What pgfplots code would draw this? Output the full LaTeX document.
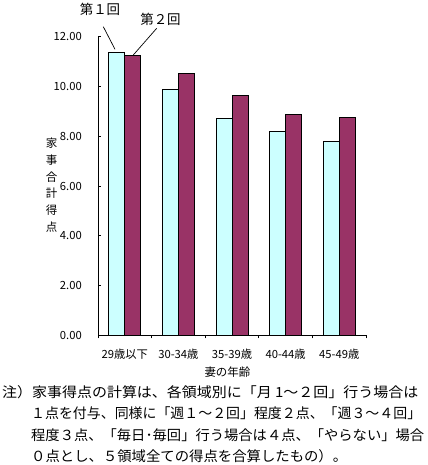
\documentclass[border=0pt]{standalone}
\usepackage{fontspec}
\setmainfont{Noto Sans CJK JP}
\usepackage{graphicx}
\usepackage{pgfplots}
\pgfplotsset{compat=1.18}
\definecolor{barcyan}{HTML}{CCFFFF}
\definecolor{barpurple}{HTML}{993366}
\begin{document}
\begin{tikzpicture}[x=1bp,y=1bp]
\useasboundingbox (0,0) rectangle (427,465);
\begin{axis}[
  at={(98bp,129.5bp)}, anchor=south west,
  scale only axis, width=268bp, height=299bp,
  xmin=0.5, xmax=5.5, ymin=0, ymax=12,
  axis lines*=left,
  axis line style={line width=0.8bp},
  tick align=inside, major tick length=3bp,
  tick style={black, line width=0.8bp},
  xtick={0.5,1.5,2.5,3.5,4.5,5.5},
  x tick label as interval,
  xticklabels={29歳以下,30-34歳,35-39歳,40-44歳,45-49歳},
  xticklabel style={font=\fontsize{11.3}{12}\selectfont, inner sep=0pt, anchor=center, yshift=-16bp},
  ytick={0,2,4,6,8,10,12},
  yticklabel style={font=\fontsize{11.3}{12}\selectfont, inner sep=0pt, xshift=-16bp},
  /pgf/number format/assume math mode=true,
  /pgf/number format/.cd, fixed, fixed zerofill, precision=2, /pgfplots/.cd,
  ybar=0pt, bar width=16bp,
  xlabel={妻の年齢},
  every axis x label/.style={at={(axis description cs:0.483,-0.1237)}, anchor=center, inner sep=0pt, font=\fontsize{11.5}{12}\selectfont},
  ylabel={家\\事\\合\\計\\得\\点},
  every axis y label/.style={at={(axis description cs:-0.1735,0.503)}, anchor=center, inner sep=0pt, align=center, font=\fontsize{11.5}{16.8}\selectfont},
]
\addplot[fill=barcyan, draw=black, line width=0.8bp] coordinates {(1,11.36) (2,9.88) (3,8.72) (4,8.19) (5,7.79)};
\addplot[fill=barpurple, draw=black, line width=0.8bp] coordinates {(1,11.24) (2,10.52) (3,9.64) (4,8.87) (5,8.76)};
\end{axis}
\node[inner sep=0pt, font=\fontsize{13.5}{14}\selectfont] at (100,455.5) {第１回};
\node[inner sep=0pt, font=\fontsize{13.5}{14}\selectfont] at (160.5,445.5) {第２回};
\draw[line width=0.7bp] (103.3,438.3) -- (115,415.7);
\draw[line width=0.7bp] (156.7,436.7) -- (133.3,410);
\begin{scope}[every node/.style={inner sep=0pt, anchor=west, font=\fontsize{14}{16}\selectfont}]
\node at (2,73) {\resizebox{416bp}{\height}{注）家事得点の計算は、各領域別に「月 1～２回」行う場合は}};
\node at (31,51.5) {\resizebox{390bp}{\height}{１点を付与、同様に「週１～２回」程度２点、「週３～４回」}};
\node at (31,30) {\resizebox{393bp}{\height}{程度３点、「毎日･毎回」行う場合は４点、「やらない」場合}};
\node at (31,9) {\resizebox{316bp}{\height}{０点とし、５領域全ての得点を合算したもの）。}};
\end{scope}
\end{tikzpicture}
\end{document}
